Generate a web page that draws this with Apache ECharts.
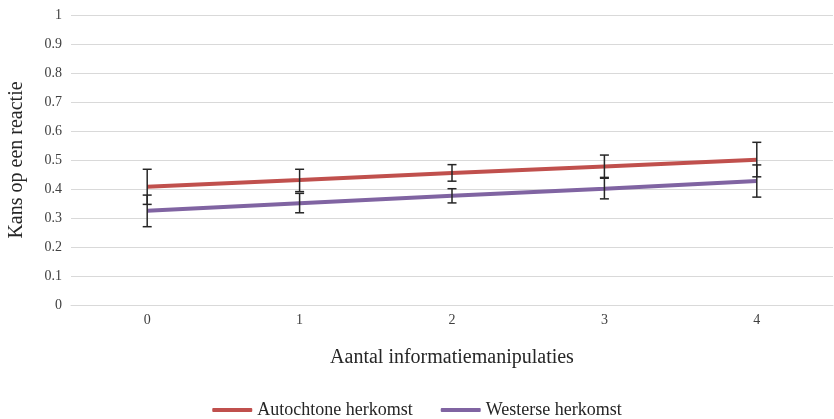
<!DOCTYPE html>
<html><head><meta charset="utf-8">
<script src="https://cdn.jsdelivr.net/npm/echarts@6/dist/echarts.min.js"></script>
<style>html,body{margin:0;padding:0;background:#fff}#c{width:834px;height:419px}</style>
</head><body><div id="c"></div>
<script>
var categories = ['0','1','2','3','4'];
var autochtone = [0.408, 0.431, 0.455, 0.478, 0.501];
var autochtoneLow = [0.347, 0.391, 0.427, 0.440, 0.442];
var autochtoneHigh = [0.468, 0.468, 0.484, 0.517, 0.561];
var westerse = [0.325, 0.351, 0.377, 0.401, 0.428];
var westerseLow = [0.270, 0.318, 0.352, 0.366, 0.372];
var westerseHigh = [0.379, 0.385, 0.401, 0.437, 0.483];
var yTicks = [0,0.1,0.2,0.3,0.4,0.5,0.6,0.7,0.8,0.9,1];

var FONT = 'Liberation Serif, DejaVu Serif, serif';
function errData(lo, hi){ return categories.map(function(c,i){ return [i, lo[i], hi[i]]; }); }
function errSeries(lo, hi){
  return {
    type:'custom', silent:true, z:5,
    data: errData(lo, hi),
    renderItem: function(params, api){
      var x = api.value(0);
      var p1 = api.coord([x, api.value(1)]);
      var p2 = api.coord([x, api.value(2)]);
      var w = 4.5;
      var st = {stroke:'#262626', lineWidth:1.5};
      return {type:'group', children:[
        {type:'line', shape:{x1:p1[0],y1:p1[1],x2:p2[0],y2:p2[1]}, style:st},
        {type:'line', shape:{x1:p1[0]-w,y1:p1[1],x2:p1[0]+w,y2:p1[1]}, style:st},
        {type:'line', shape:{x1:p2[0]-w,y1:p2[1],x2:p2[0]+w,y2:p2[1]}, style:st}
      ]};
    }
  };
}
var chart = echarts.init(document.getElementById('c'));
chart.setOption({
  animation:false,
  textStyle:{fontFamily:FONT},
  grid:{left:71, right:1, top:15, bottom:114, containLabel:false, outerBoundsMode:'none'},
  legend:{
    top:396, left:'center', itemGap:28, itemWidth:40, itemHeight:4, icon:'roundRect',
    textStyle:{fontFamily:FONT, fontSize:18, color:'#262626'},
    data:['Autochtone herkomst','Westerse herkomst']
  },
  xAxis:{
    type:'category', data:categories, boundaryGap:true,
    name:'Aantal informatiemanipulaties', nameLocation:'middle', nameGap:43,
    nameTextStyle:{fontFamily:FONT, fontSize:20, color:'#262626'},
    axisLine:{lineStyle:{color:'#d9d9d9'}}, axisTick:{show:false},
    axisLabel:{fontFamily:FONT, fontSize:14, color:'#404040', margin:8}
  },
  yAxis:{
    type:'value', min:0, max:1, interval:0.1,
    name:'Kans op een reactie', nameLocation:'middle', nameGap:44,
    nameTextStyle:{fontFamily:FONT, fontSize:20, color:'#262626'},
    axisLine:{show:false}, axisTick:{show:false},
    splitLine:{lineStyle:{color:'#d9d9d9', width:1}},
    axisLabel:{fontFamily:FONT, fontSize:14, color:'#404040', margin:9,
      formatter:function(v){ var r = Math.round(v*10)/10; return yTicks.indexOf(r)>=0 ? String(r) : ''; }}
  },
  series:[
    {name:'Autochtone herkomst', type:'line', data:autochtone, symbol:'none', z:3,
     lineStyle:{color:'#C0504D', width:4}, itemStyle:{color:'#C0504D'}},
    {name:'Westerse herkomst', type:'line', data:westerse, symbol:'none', z:3,
     lineStyle:{color:'#8064A2', width:4}, itemStyle:{color:'#8064A2'}},
    errSeries(autochtoneLow, autochtoneHigh),
    errSeries(westerseLow, westerseHigh)
  ]
});
</script></body></html>
